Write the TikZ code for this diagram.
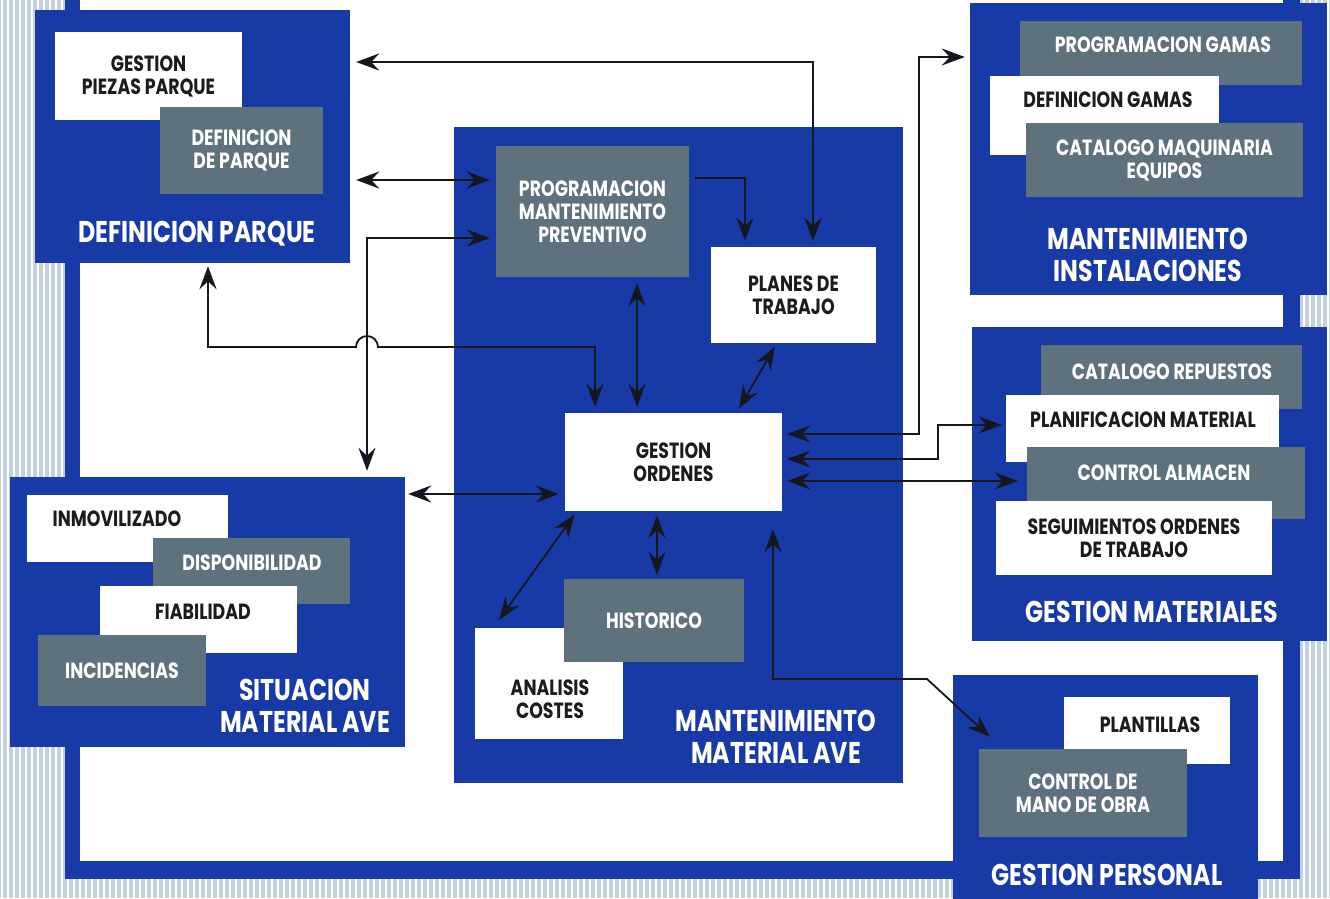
\documentclass[tikz,border=0pt]{standalone}
\usepackage{fontspec}
\setmainfont{Poppins}[FakeStretch=0.79]
\usepackage{tikz}
\usetikzlibrary{positioning,arrows.meta}

\definecolor{panelblue}{RGB}{24,58,166}
\definecolor{slate}{RGB}{94,114,126}
\definecolor{stripe}{RGB}{196,210,222}
\definecolor{ink}{RGB}{22,22,30}
\definecolor{textdark}{RGB}{28,28,28}

\newcommand{\boxtxt}{\fontsize{22}{23}\selectfont\bfseries}
\newcommand{\paneltxt}{\fontsize{30}{32}\selectfont\bfseries}

\tikzset{
  panel/.style={fill=panelblue, inner sep=0pt},
  wbox/.style={fill=white, text=textdark, inner sep=0pt, align=center, font=\boxtxt},
  gbox/.style={fill=slate, text=white, inner sep=0pt, align=center, font=\boxtxt},
  dtext/.style={text=textdark, inner sep=0pt, align=center, font=\boxtxt},
  ltext/.style={text=white, inner sep=0pt, align=center, font=\boxtxt},
  title/.style={text=white, inner sep=0pt, align=center, font=\paneltxt},
  link/.style={draw=ink, line width=1.8pt, shorten <=6pt, shorten >=6pt},
}

\begin{document}
\begin{tikzpicture}[x=1pt, y=-1pt, >={Stealth[length=23pt,width=17pt,inset=8pt]}]
  \useasboundingbox (0,0) rectangle (1330,898);
  % striped paper and frame
  \fill[stripe] (0,0) rectangle (1330,898);
  \foreach \sx in {2,8,...,1330}{
    \draw[white, line width=2pt] (\sx,0) -- (\sx,898);
  }
  \fill[panelblue] (65,-5) rectangle (1300,879);
  \fill[white]     (80,-5) rectangle (1283,861);

  % definicion parque
  \node[panel, minimum width=315pt, minimum height=253pt] (defparque) at (192.5,136.5) {};
  \node[wbox, minimum width=187pt, minimum height=88pt] (piezas) at (148.5,76) {GESTION\\PIEZAS PARQUE};
  \node[gbox, minimum width=163pt, minimum height=87pt] (defpq) at (241.5,150.5) {DEFINICION\\DE PARQUE};
  \node[title] (defparque-t) at (197,234) {DEFINICION PARQUE};

  % situacion material ave
  \node[panel, minimum width=395pt, minimum height=270pt] (situacion) at (207.5,612) {};
  \node[wbox, minimum width=201pt, minimum height=67pt] (inmov) at (127.5,528.5) {};
  \node[dtext] (inmov-t) at (117,519) {INMOVILIZADO};
  \node[gbox, minimum width=197pt, minimum height=66pt] (dispon) at (251.5,571) {};
  \node[ltext] (dispon-t) at (252,563) {DISPONIBILIDAD};
  \node[wbox, minimum width=197pt, minimum height=67pt] (fiab) at (198.5,619.5) {};
  \node[dtext] (fiab-t) at (203,612) {FIABILIDAD};
  \node[gbox, minimum width=168pt, minimum height=71pt] (incid) at (122,670.5) {INCIDENCIAS};
  \node[title] (situacion-t) at (305,706) {SITUACION\\MATERIAL AVE};

  % mantenimiento material ave
  \node[panel, minimum width=449pt, minimum height=656pt] (mantave) at (678.5,455) {};
  \node[gbox, minimum width=193pt, minimum height=131pt] (progmant) at (592.5,211.5) {PROGRAMACION\\MANTENIMIENTO\\PREVENTIVO};
  \node[wbox, minimum width=165pt, minimum height=96pt] (planes) at (793.5,295) {PLANES DE\\TRABAJO};
  \node[wbox, minimum width=217pt, minimum height=98pt] (gestord) at (673.5,462) {GESTION\\ORDENES};
  \node[wbox, minimum width=148pt, minimum height=111pt] (analisis) at (549,683.5) {};
  \node[dtext] (analisis-t) at (550,699) {ANALISIS\\COSTES};
  \node[gbox, minimum width=180pt, minimum height=83pt] (historico) at (654,620.5) {HISTORICO};
  \node[title] (mantave-t) at (776,736.5) {MANTENIMIENTO\\MATERIAL AVE};

  % mantenimiento instalaciones
  \node[panel, minimum width=357pt, minimum height=292pt] (mantinst) at (1148.5,149) {};
  \node[gbox, minimum width=282pt, minimum height=64pt] (proggamas) at (1161,53) {};
  \node[ltext] (proggamas-t) at (1163,45) {PROGRAMACION GAMAS};
  \node[wbox, minimum width=229pt, minimum height=79pt] (defgamas) at (1104.5,115.5) {};
  \node[dtext] (defgamas-t) at (1108,100) {DEFINICION GAMAS};
  \node[gbox, minimum width=277pt, minimum height=74pt] (catmaq) at (1164.5,160) {CATALOGO MAQUINARIA\\EQUIPOS};
  \node[title] (mantinst-t) at (1148,255) {MANTENIMIENTO\\INSTALACIONES};

  % gestion materiales
  \node[panel, minimum width=355pt, minimum height=314pt] (gestmat) at (1149.5,484) {};
  \node[gbox, minimum width=261pt, minimum height=64pt] (catrep) at (1171.5,377) {};
  \node[ltext] (catrep-t) at (1172,372) {CATALOGO REPUESTOS};
  \node[wbox, minimum width=273pt, minimum height=67pt] (planif) at (1142.5,428.5) {};
  \node[dtext] (planif-t) at (1143,420) {PLANIFICACION MATERIAL};
  \node[gbox, minimum width=278pt, minimum height=72pt] (ctrlalm) at (1166,483) {};
  \node[ltext] (ctrlalm-t) at (1164,473) {CONTROL ALMACEN};
  \node[wbox, minimum width=276pt, minimum height=74pt] (seguim) at (1134,538) {SEGUIMIENTOS ORDENES\\DE TRABAJO};
  \node[title] (gestmat-t) at (1152,612) {GESTION MATERIALES};

  % gestion personal
  \node[panel, minimum width=305pt, minimum height=235pt] (gestpers) at (1105.5,792.5) {};
  \node[wbox, minimum width=166pt, minimum height=67pt] (plantillas) at (1147,730.5) {};
  \node[dtext] (plantillas-t) at (1150,725) {PLANTILLAS};
  \node[gbox, minimum width=208pt, minimum height=88pt] (ctrlmano) at (1083,793) {CONTROL DE\\MANO DE OBRA};
  \node[title] (gestpers-t) at (1107,875) {GESTION PERSONAL};

  % turning points
  \coordinate (hop)   at (367,347);
  \coordinate (elbow) at (927,679);
  \coordinate (rise1) at (919,57);
  \coordinate (rise2) at (938,425);

  % connectors
  \draw[link,<->] ([yshift=74.5pt]defparque.east) -| ([xshift=19.5pt]planes.north);
  \draw[link,<->] ([yshift=31.5pt]progmant.west) -- ([yshift=31.5pt]progmant.west -| defparque.east);
  \draw[link,<->] ([yshift=-26.5pt]progmant.west) -| ([xshift=159.5pt]situacion.north);
  \draw[link,<->, shorten <=3pt] ([xshift=15.5pt]defparque.south) |- ([xshift=-11pt]hop)
    arc[start angle=180, end angle=0, radius=11pt] -| ([xshift=-78.5pt]gestord.north);
  \draw[link,->] ([yshift=33.5pt]progmant.east) -| ([xshift=-48.5pt]planes.north);
  \draw[link,<->] ([xshift=44.5pt]progmant.south) -- ([xshift=44.5pt]progmant.south |- gestord.north);
  \draw[link,<->, shorten <=4pt, shorten >=5pt] (planes.251) -- (gestord.38);
  \draw[link,<->, shorten >=3pt] ([yshift=-32pt]gestord.west) -- ([yshift=-32pt]gestord.west -| situacion.east);
  \draw[link,<->, shorten <=4pt, shorten >=10pt] (gestord.207) -- (analisis.135);
  \draw[link,<->, shorten <=4pt, shorten >=4pt] ([xshift=-16.5pt]gestord.south) -- ([xshift=-16.5pt]gestord.south |- historico.north);
  \draw[link,<->, shorten <=18pt, shorten >=0pt] ([xshift=99.5pt]gestord.south) |- (elbow)
    -- ([xshift=37pt,yshift=-62pt]gestpers.north west);
  \draw[link,<->, shorten <=5pt, shorten >=5pt] ([yshift=28pt]gestord.east) -| (rise1) -- (rise1 -| mantinst.west);
  \draw[link,<->, shorten <=5pt, shorten >=4pt] ([yshift=3pt]gestord.east) -| (rise2) -- (rise2 -| planif.west);
  \draw[link,<->, shorten <=5pt, shorten >=9pt] ([yshift=-19pt]gestord.east) -- ([yshift=-19pt]gestord.east -| ctrlalm.west);
\end{tikzpicture}
\end{document}
